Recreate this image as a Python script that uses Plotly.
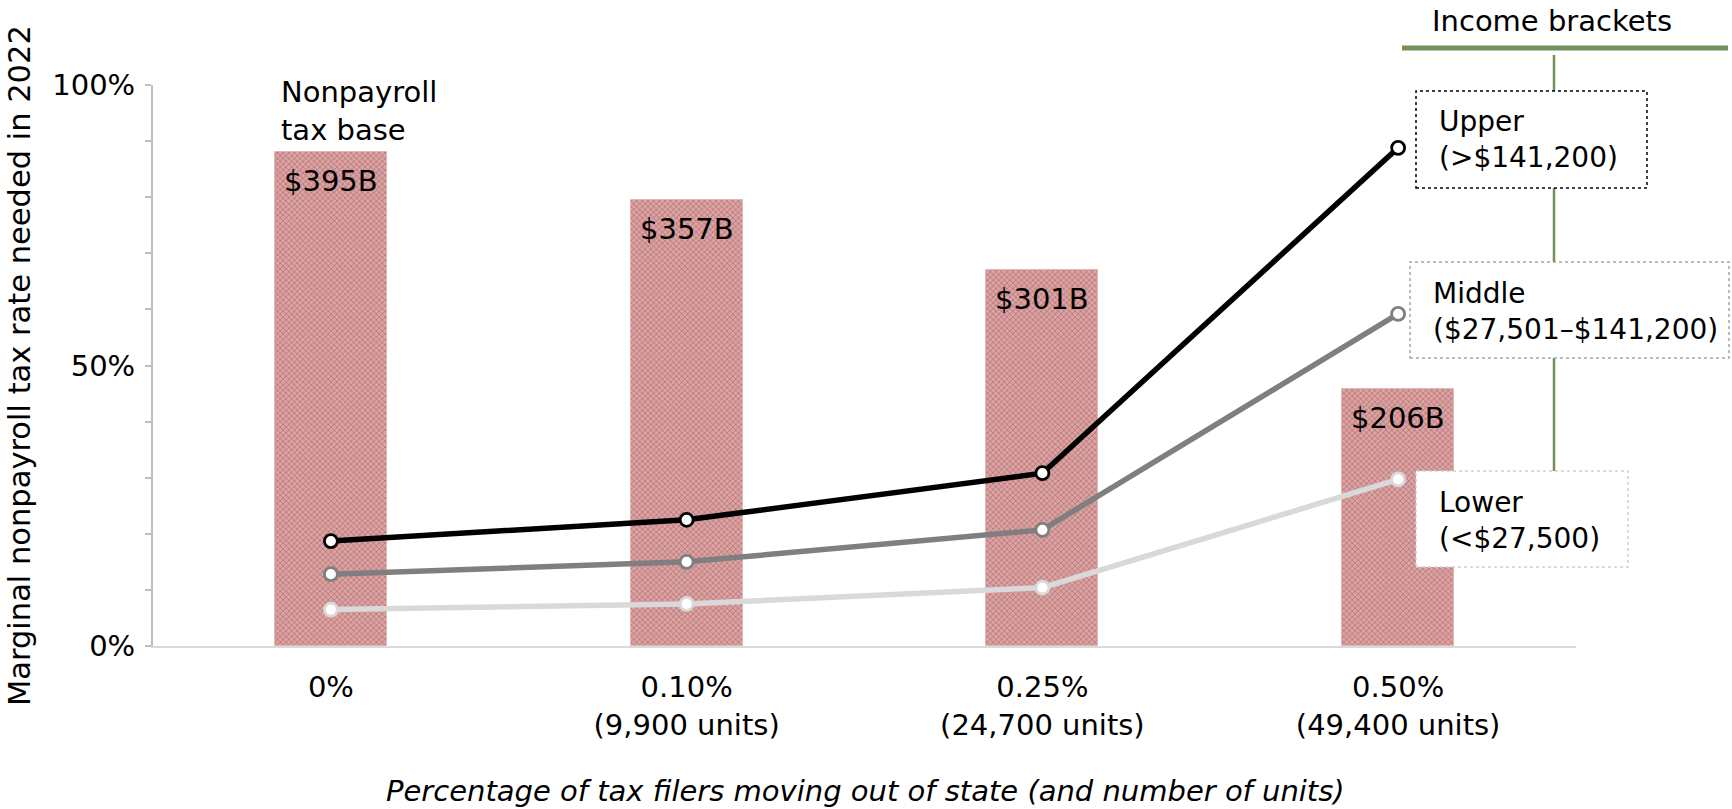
import plotly.graph_objects as go

# ---- data -------------------------------------------------------------
categories = ["0%", "0.10%<br>(9,900 units)", "0.25%<br>(24,700 units)", "0.50%<br>(49,400 units)"]
tax_base_billions = [395, 357, 301, 206]
bar_labels = ["$395B", "$357B", "$301B", "$206B"]
upper_rate = [0.187, 0.225, 0.308, 0.888]
middle_rate = [0.128, 0.150, 0.207, 0.592]
lower_rate = [0.065, 0.075, 0.104, 0.297]

# ---- layout geometry (pixels) ----------------------------------------
W, H = 1732, 809
L, R, T, B = 153, 156, 85, 163
PW, PH = W - L - R, H - T - B
FONT = "DejaVu Sans"
FS = 29
FS_KEY = 28


def px(x):
    return (x - L) / PW


def py(y):
    return (H - B - y) / PH


xs = list(range(len(categories)))
fig = go.Figure()

# tax base bars on the hidden primary axis so the rate lines sit on top
fig.add_trace(go.Bar(
    x=xs, y=tax_base_billions, yaxis="y", width=0.315,
    marker=dict(
        color="#d59c9c",
        line=dict(color="#e2b6b6", width=1),
        pattern=dict(shape="x", fgcolor="#a84a4a", size=4, solidity=0.4, bgcolor="#d9a4a4"),
    ),
    hoverinfo="skip", showlegend=False,
))

series = [
    (lower_rate, "#d9d9d9"),
    (middle_rate, "#7f7f7f"),
    (upper_rate, "#000000"),
]
for vals, col in series:
    fig.add_trace(go.Scatter(
        x=xs, y=vals, yaxis="y2", mode="lines+markers",
        line=dict(color=col, width=5.5),
        marker=dict(size=13, color="white", line=dict(color=col, width=2.8)),
        showlegend=False, hoverinfo="skip",
    ))

annotations = []
for i, (v, lab) in enumerate(zip(tax_base_billions, bar_labels)):
    annotations.append(dict(x=i, y=v, xref="x", yref="y", text=lab, showarrow=False,
                            yanchor="top", yshift=-10, font=dict(size=FS)))

annotations += [
    dict(x=px(279), y=py(111), xref="paper", yref="paper", text="Nonpayroll<br>tax base",
         showarrow=False, xanchor="left", yanchor="middle", align="left", font=dict(size=FS)),
    dict(x=px(1552), y=py(21), xref="paper", yref="paper", text="Income brackets",
         showarrow=False, xanchor="center", yanchor="middle", font=dict(size=FS)),
    dict(x=px(1437), y=py(139), xref="paper", yref="paper", text="Upper<br>(>$141,200)",
         showarrow=False, xanchor="left", yanchor="middle", align="left", font=dict(size=FS_KEY)),
    dict(x=px(1431), y=py(311), xref="paper", yref="paper", text="Middle<br>($27,501–$141,200)",
         showarrow=False, xanchor="left", yanchor="middle", align="left", font=dict(size=FS_KEY)),
    dict(x=px(1437), y=py(520), xref="paper", yref="paper", text="Lower<br>(<$27,500)",
         showarrow=False, xanchor="left", yanchor="middle", align="left", font=dict(size=FS_KEY)),
    dict(x=px(19), y=py(366), xref="paper", yref="paper",
         text="Marginal nonpayroll tax rate needed in 2022", textangle=-90,
         showarrow=False, xanchor="center", yanchor="middle", font=dict(size=30.5)),
    dict(x=px(865), y=py(791), xref="paper", yref="paper",
         text="<i>Percentage of tax filers moving out of state (and number of units)</i>",
         showarrow=False, xanchor="center", yanchor="middle", font=dict(size=FS)),
]

GREEN = "#70915b"
shapes = [
    dict(type="line", xref="paper", yref="paper", x0=px(1402), x1=px(1728), y0=py(48), y1=py(48),
         line=dict(color=GREEN, width=5), layer="above"),
    dict(type="line", xref="paper", yref="paper", x0=px(1554), x1=px(1554), y0=py(55), y1=py(471),
         line=dict(color=GREEN, width=2.5), layer="above"),
    dict(type="rect", xref="paper", yref="paper", x0=px(1416), x1=px(1647), y0=py(188), y1=py(91),
         fillcolor="white", line=dict(color="#000000", width=1.5, dash="dot"), layer="above"),
    dict(type="rect", xref="paper", yref="paper", x0=px(1410), x1=px(1729), y0=py(358), y1=py(262),
         fillcolor="white", line=dict(color="#a6a6a6", width=1.5, dash="dot"), layer="above"),
    dict(type="rect", xref="paper", yref="paper", x0=px(1416), x1=px(1628), y0=py(567), y1=py(471),
         fillcolor="white", line=dict(color="#d0d0d0", width=1.5, dash="dot"), layer="above"),
]

fig.update_layout(
    width=W, height=H,
    margin=dict(l=L, r=R, t=T, b=B, pad=0),
    paper_bgcolor="white", plot_bgcolor="white",
    font=dict(family=FONT, size=FS, color="#000000"),
    bargap=0,
    xaxis=dict(
        range=[-0.5, 3.5], tickvals=xs, ticktext=categories, ticks="",
        showline=True, linecolor="#d9d9d9", linewidth=2, showgrid=False, zeroline=False,
        ticklabelstandoff=14, tickfont=dict(size=FS),
    ),
    yaxis=dict(range=[0, 449], visible=False),
    yaxis2=dict(
        overlaying="y", side="left",
        range=[0, 1], tickvals=[0, 0.5, 1], tickformat=".0%",
        ticks="outside", ticklen=6, tickcolor="#bfbfbf", tickwidth=1.5,
        minor=dict(dtick=0.1, ticks="outside", ticklen=6, tickcolor="#bfbfbf", tickwidth=1.5),
        showline=True, linecolor="#bfbfbf", linewidth=2, showgrid=False, zeroline=False,
        ticklabelstandoff=4, tickfont=dict(size=FS),
    ),
    annotations=annotations,
    shapes=shapes,
)

fig.write_html("out.html")
